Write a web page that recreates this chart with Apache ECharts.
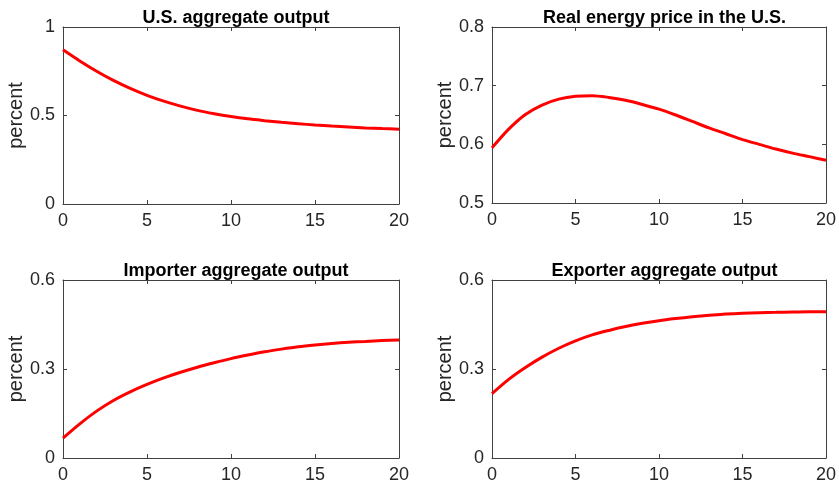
<!DOCTYPE html>
<html>
<head>
<meta charset="utf-8">
<script src="https://cdn.jsdelivr.net/npm/echarts@6/dist/echarts.min.js"></script>
<style>
html,body{margin:0;padding:0;background:#fff;}
#chart{width:839px;height:493px;}
</style>
</head>
<body>
<div id="chart"></div>
<script>
const periods = [0,1,2,3,4,5,6,7,8,9,10,11,12,13,14,15,16,17,18,19,20];
const usOutput = [0.871,0.808,0.750,0.698,0.653,0.614,0.581,0.553,0.529,0.510,0.494,0.481,0.471,0.462,0.454,0.446,0.440,0.435,0.430,0.426,0.423];
const energyPrice = [0.594,0.626,0.651,0.667,0.677,0.682,0.683,0.680,0.675,0.668,0.660,0.650,0.639,0.628,0.618,0.608,0.600,0.592,0.585,0.579,0.573];
const importerOutput = [0.067,0.115,0.158,0.194,0.223,0.248,0.270,0.289,0.306,0.321,0.335,0.347,0.358,0.367,0.375,0.381,0.386,0.390,0.393,0.396,0.398];
const exporterOutput = [0.217,0.265,0.305,0.340,0.370,0.395,0.415,0.430,0.443,0.454,0.463,0.470,0.476,0.481,0.485,0.488,0.490,0.491,0.492,0.493,0.493];
const titles = ["U.S. aggregate output","Real energy price in the U.S.","Importer aggregate output","Exporter aggregate output"];
const xTicks = [0,5,10,15,20];
const usTicks = [0,0.5,1];
const priceTicks = [0.5,0.6,0.7,0.8];
const importerTicks = [0,0.3,0.6];
const exporterTicks = [0,0.3,0.6];
const yLabel = "percent";

const panels = [
  {values: usOutput, ticks: usTicks, grid: {left:63, top:27, width:336, height:177}, gap:29},
  {values: energyPrice, ticks: priceTicks, grid: {left:492, top:27, width:335, height:176}, gap:36},
  {values: importerOutput, ticks: importerTicks, grid: {left:63, top:280, width:336, height:178}, gap:29},
  {values: exporterOutput, ticks: exporterTicks, grid: {left:492, top:280, width:335, height:178}, gap:36}
];

const axisColor = '#404040';
const textColor = '#262626';
const font = 'Liberation Sans, Arial, sans-serif';

const option = {animation:false, backgroundColor:'#fff', title:[], grid:[], xAxis:[], yAxis:[], series:[]};

panels.forEach((p, i) => {
  option.grid.push(Object.assign({containLabel:false}, p.grid));
  option.title.push({
    text: titles[i],
    left: p.grid.left + p.grid.width/2,
    top: p.grid.top - 23,
    textAlign: 'center',
    textStyle: {fontFamily: font, fontSize: 18, fontWeight: 'bold', color: '#000'}
  });
  const xi = xTicks[1]-xTicks[0];
  const xBase = {
    type:'value', gridIndex:i, min:xTicks[0], max:xTicks[xTicks.length-1], interval:xi,
    axisLine:{show:true, onZero:false, lineStyle:{color:axisColor, width:1}},
    axisTick:{show:true, inside:true, length:4, lineStyle:{color:axisColor}},
    splitLine:{show:false}
  };
  option.xAxis.push(Object.assign({}, xBase, {position:'bottom',
    axisLabel:{show:true, margin:8, fontFamily:font, fontSize:18, color:textColor}}));
  option.xAxis.push(Object.assign({}, xBase, {position:'top', axisLabel:{show:false}}));
  const yi = +(p.ticks[1]-p.ticks[0]).toFixed(6);
  const yBase = {
    type:'value', gridIndex:i, min:p.ticks[0], max:p.ticks[p.ticks.length-1], interval:yi,
    axisLine:{show:true, onZero:false, lineStyle:{color:axisColor, width:1}},
    axisTick:{show:true, inside:true, length:4, lineStyle:{color:axisColor}},
    splitLine:{show:false}
  };
  option.yAxis.push(Object.assign({}, yBase, {position:'left',
    name: yLabel, nameLocation:'middle', nameGap:p.gap, nameRotate:90,
    nameTextStyle:{fontFamily:font, fontSize:20, color:textColor},
    axisLabel:{show:true, margin:8, fontFamily:font, fontSize:18, color:textColor,
      formatter: v => String(+v.toFixed(4))}}));
  option.yAxis.push(Object.assign({}, yBase, {position:'right', axisLabel:{show:false}}));
  option.series.push({
    type:'line', xAxisIndex:2*i, yAxisIndex:2*i,
    data: periods.map((t, k) => [t, p.values[k]]),
    showSymbol:false, symbol:'none', smooth:0.3,
    lineStyle:{color:'#ff0000', width:3}, itemStyle:{color:'#ff0000'}
  });
});

const chart = echarts.init(document.getElementById('chart'), null, {renderer:'canvas'});
chart.setOption(option);
</script>
</body>
</html>
